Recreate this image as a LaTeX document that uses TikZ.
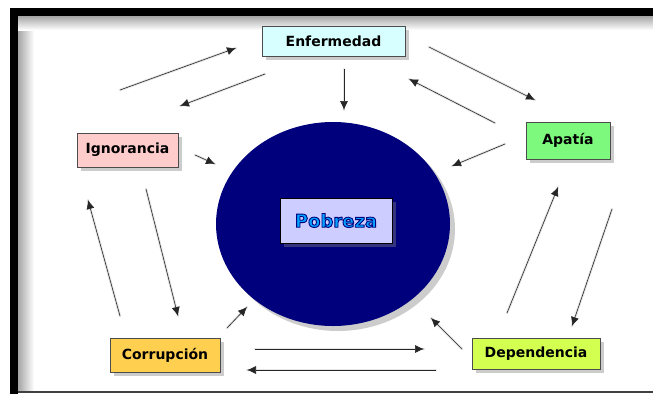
\documentclass[tikz,border=0pt]{standalone}
\usepackage{fontspec}
\setmainfont{DejaVu Sans}
\usetikzlibrary{arrows.meta,shadows,shapes.geometric}
\definecolor{celeste}{RGB}{215,255,255}
\definecolor{rosa}{RGB}{255,204,204}
\definecolor{verde}{RGB}{125,250,125}
\definecolor{naranja}{RGB}{255,208,80}
\definecolor{lima}{RGB}{210,255,80}
\definecolor{marino}{RGB}{0,0,125}
\definecolor{lavanda}{RGB}{205,205,255}
\definecolor{azulclaro}{RGB}{0,160,255}
\tikzset{
  caja/.style={draw=black!70, line width=0.8pt, inner sep=0pt,
    font=\fontsize{14}{16}\selectfont\bfseries,
    drop shadow={opacity=0.4, shadow xshift=4pt, shadow yshift=-4pt}},
  flecha/.style={-{Latex[length=9pt,width=8pt]}, draw=black!85, line width=0.6pt},
  sombra/.style={draw=black!10, line width=2.5pt, line cap=round,
    shift={(4,5)}}
}
% texto con borde
\newcommand{\conborde}[1]{\special{pdf:literal direct 0 0 0.49 RG 0.9 w 2 Tr}#1\special{pdf:literal direct 0 Tr}}
\begin{document}
\begin{tikzpicture}[x=1pt,y=-1pt]
      \useasboundingbox (0,0) rectangle (653,394);
      % marco
      \fill[white] (0,0) rectangle (653,394);
      \shade[left color=black!35, right color=white] (18,16) rectangle (34,391);
      \shade[top color=black!35, bottom color=white] (18,16) rectangle (653,30);
      \fill[black] (10,8) rectangle (653,16);
      \fill[black] (10,8) rectangle (18,394);
      \fill[black!75] (18,390.5) rectangle (653,393);
      % centro
      \node (circ) [ellipse, fill=marino, minimum width=234pt, minimum height=204pt,
        inner sep=0pt, drop shadow={opacity=0.4, shadow xshift=5pt, shadow yshift=-5pt}]
        at (333,224) {};
      \node (pob) [caja, fill=lavanda, draw=black, minimum width=112pt, minimum height=45pt,
        font=\fontsize{18}{20}\selectfont\bfseries, text=azulclaro, drop shadow={opacity=0}]
        at (336,220.5) {\conborde{Pobreza}};
      % cajas
      \node (enf) [caja, fill=celeste, minimum width=143pt, minimum height=30pt] at (333.5,41) {Enfermedad};
      \node (ign) [caja, fill=rosa, minimum width=101pt, minimum height=34pt] at (127.5,150) {Ignorancia};
      \node (apa) [caja, fill=verde, minimum width=84pt, minimum height=37pt] at (568,140.5) {Apatía};
      \node (cor) [caja, fill=naranja, minimum width=110pt, minimum height=34pt] at (165,355) {Corrupción};
      \node (dep) [caja, fill=lima, minimum width=128pt, minimum height=31pt] at (536,353.5) {Dependencia};
      % extremos de las flechas
      \coordinate (a1) at (120,90);   \coordinate (b1) at (236,48);
      \coordinate (a2) at (265,74);   \coordinate (b2) at (180,106);
      \coordinate (a3) at (344,69);   \coordinate (b3) at (344,110);
      \coordinate (a4) at (429,47);   \coordinate (b4) at (535,100);
      \coordinate (a5) at (495,123);  \coordinate (b5) at (409,79);
      \coordinate (a6) at (505,144);  \coordinate (b6) at (452,166);
      \coordinate (a7) at (195,155);  \coordinate (b7) at (215,164);
      \coordinate (a8) at (146,189);  \coordinate (b8) at (178,316);
      \coordinate (a9) at (120,316);  \coordinate (b9) at (88,200);
      \coordinate (a10) at (227,328); \coordinate (b10) at (247,307);
      \coordinate (a11) at (255,349); \coordinate (b11) at (424,349);
      \coordinate (a12) at (436,370); \coordinate (b12) at (247,370);
      \coordinate (a13) at (462,349); \coordinate (b13) at (431,318);
      \coordinate (a14) at (507,313); \coordinate (b14) at (558,187);
      \coordinate (a15) at (612,209); \coordinate (b15) at (572,326);
      \foreach \i in {1,...,15} {
        \draw[sombra] (a\i) -- (b\i);
        \draw[flecha] (a\i) -- (b\i);
      }
\end{tikzpicture}
\end{document}
